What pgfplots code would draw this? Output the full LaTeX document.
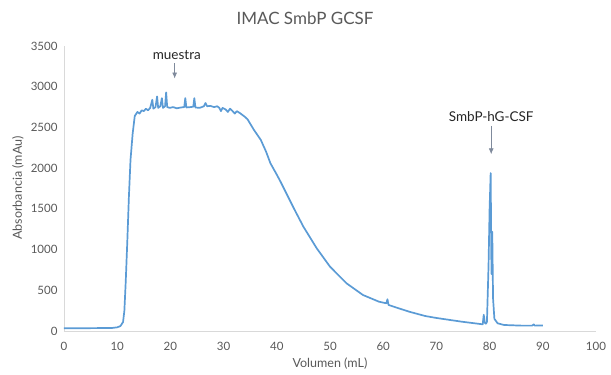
\documentclass[border=0pt]{standalone}
\usepackage{pgfplots}
\pgfplotsset{compat=1.18}
\usetikzlibrary{arrows.meta}
\usepackage{fontspec}
\setmainfont{Lato}
\definecolor{linecol}{HTML}{5B9BD5}
\definecolor{txtgray}{HTML}{595959}
\definecolor{axgray}{HTML}{D9D9D9}
\definecolor{arrgray}{HTML}{7F8A9C}
\begin{document}
\begin{tikzpicture}
\useasboundingbox (-64pt,-44pt) rectangle (547pt,331pt);
\begin{axis}[
  scale only axis,
  width=532pt, height=285pt,
  xmin=0, xmax=100, ymin=0, ymax=3500,
  xtick={0,10,...,100}, ytick={0,500,...,3500},
  axis lines*=left,
  axis line style={draw=axgray, line width=0.8pt},
  major tick length=0pt,
  tick label style={font=\fontsize{11.5}{13}\selectfont, text=txtgray},
  /pgf/number format/assume math mode=true,
  /pgf/number format/1000 sep={},
  yticklabel style={xshift=-3pt},
  xticklabel style={yshift=-8pt},
  clip=false,
]
\addplot[color=linecol, line width=1.7pt, line join=round] coordinates {
(0,35) (5,35) (9,37) (10,45) (10.6,60) (11.1,110) (11.35,250) (11.6,600) (11.9,1100) (12.2,1650) (12.5,2100) (12.9,2420) (13.3,2640) (13.8,2690) (14.2,2670) (14.6,2710) (15.0,2700) (15.4,2730) (15.8,2710) (16.2,2740) (16.6,2840) (16.8,2730) (17.2,2750) (17.5,2880) (17.7,2740) (18.1,2760) (18.4,2860) (18.6,2740) (19.0,2760) (19.2,2930) (19.4,2750) (19.9,2740) (20.5,2750) (21.2,2735) (22.0,2745) (22.6,2750) (22.8,2860) (23.0,2745) (23.8,2750) (24.3,2755) (24.5,2860) (24.7,2745) (25.5,2740) (26.3,2760) (26.6,2800) (26.9,2760) (27.5,2765) (28.2,2750) (28.8,2760) (29.2,2740) (29.5,2700) (29.8,2740) (30.4,2720) (30.8,2690) (31.2,2730) (31.7,2700) (32.1,2670) (32.5,2700) (33.2,2670) (34,2630) (34.5,2600) (35.7,2470) (37,2346) (38,2200) (38.8,2060) (40,1920) (40.7,1834) (43.2,1507) (45,1281) (47.5,1016) (50,790) (53.1,586) (56.2,442) (59.2,360) (60.6,340) (60.8,390) (61,320) (62.9,279) (65,235) (67.9,184) (70,160) (74.7,115) (78.7,82) (78.9,200) (79.1,100) (79.3,90) (79.5,110) (79.8,800) (80.0,1500) (80.2,1940) (80.35,700) (80.5,1220) (80.65,400) (80.9,150) (81.5,95) (82.7,74) (86,66) (88,66) (88.3,82) (88.5,66) (90,68)
};
\draw[arrgray, line width=0.8pt, -{Latex[length=6pt,width=5pt]}] (axis cs:20.8,3290) -- (axis cs:20.8,3100);
\node[font=\fontsize{13.5}{15}\selectfont, text=black!85] at (axis cs:21.2,3395) {muestra};
\draw[arrgray, line width=0.8pt, -{Latex[length=6pt,width=5pt]}] (axis cs:80.3,2520) -- (axis cs:80.3,2170);
\node[font=\fontsize{13.5}{15}\selectfont, text=black!85] at (axis cs:80.3,2630) {SmbP-hG-CSF};
\end{axis}
\node[font=\fontsize{17}{20}\selectfont, text=txtgray] at (241pt,313pt) {IMAC SmbP GCSF};
\node[font=\fontsize{12.5}{14}\selectfont, text=txtgray, rotate=90] at (-46pt,143pt) {Absorbancia (mAu)};
\node[font=\fontsize{12.5}{14}\selectfont, text=txtgray] at (266pt,-33pt) {Volumen (mL)};
\end{tikzpicture}
\end{document}
